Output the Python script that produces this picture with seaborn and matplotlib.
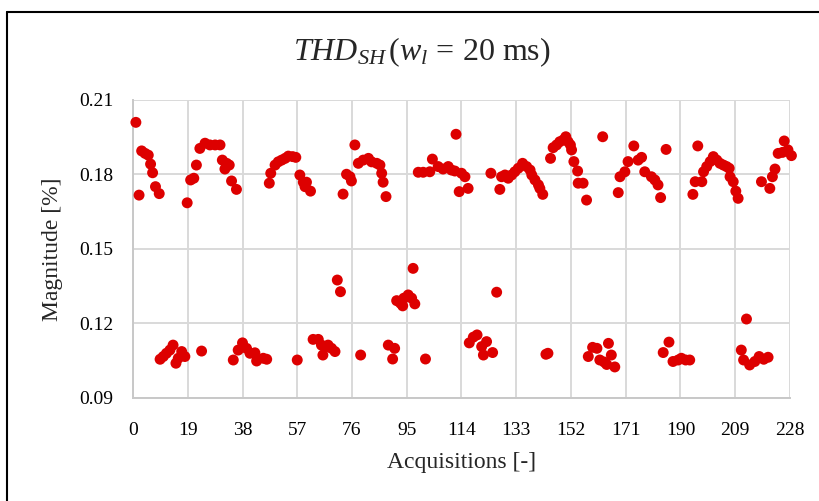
import matplotlib
matplotlib.use("Agg")
import matplotlib.pyplot as plt
import seaborn as sns
import pandas as pd
from matplotlib.lines import Line2D

# Acquisition index and measured THD magnitude [%]
acquisition = [
    1.0, 2.1, 3.0, 4.2, 5.3, 6.1, 6.8, 7.8, 9.1,
    9.4, 10.5, 11.6, 12.8, 13.9, 14.9, 15.7, 16.9, 18.0,
    18.8, 20.0, 21.1, 22.0, 23.2, 23.8, 25.0, 26.7, 28.5, 30.2, 31.0, 31.9, 32.5, 33.4, 34.2, 34.8, 35.9,
    36.5, 38.0, 39.4, 40.6, 42.3, 42.9, 45.2, 46.4,
    47.3, 47.8, 49.3, 50.4, 51.6, 52.8, 53.9, 55.4, 56.5, 57.0,
    57.9, 59.1, 59.7, 60.2, 61.6,
    62.5, 64.3, 65.4, 65.9, 66.6, 67.7, 68.9, 70.1, 70.9, 72.0,
    72.9, 74.1, 75.3, 75.8, 77.0, 78.2, 79.0, 79.9, 81.7, 82.8, 84.6, 85.7, 86.3, 86.8, 87.8,
    88.6, 90.1, 90.8, 91.5, 92.8, 93.6, 94.0, 95.5, 96.7, 97.2, 97.8,
    99.0, 100.7, 101.5, 103.0, 103.9, 105.9, 107.6, 109.4, 110.5, 111.7, 112.1, 113.2, 114.0, 115.2, 116.3,
    116.7, 118.1, 119.4, 121.0, 121.6, 122.7, 124.2, 124.8, 126.2,
    127.3, 127.9, 129.1, 130.2, 131.4, 132.5, 133.7, 135.2, 136.6, 137.8, 138.4, 139.5, 140.7, 141.2, 142.2,
    143.3, 144.0,
    144.9, 145.8, 147.0, 148.1, 149.3, 150.2, 151.0, 151.8, 152.2, 153.0, 154.3, 154.5, 156.2, 157.4,
    158.0, 159.5, 161.0, 162.0, 163.0, 163.5, 164.4, 165.0, 166.0, 167.2,
    168.4, 169.0, 170.7, 171.8, 173.8, 175.3, 176.5, 177.6, 179.9, 181.1, 182.2, 183.1,
    184.0, 185.0, 186.0, 187.4, 189.2, 190.3, 191.8, 193.2,
    194.3, 195.1, 196.0, 197.4, 198.0, 199.1, 200.3, 201.4, 202.6, 203.7, 204.9, 206.0, 206.9,
    207.2, 208.3, 209.2, 210.0,
    211.1, 211.9, 212.9, 214.0, 215.8, 217.3, 218.1, 218.9, 220.4,
    221.0, 221.9, 222.8, 223.9, 225.4, 226.0, 227.3, 228.5,
]
magnitude = [
    0.2010, 0.1717, 0.1895, 0.1885, 0.1878, 0.1842, 0.1807, 0.1751, 0.1723,
    0.1056, 0.1067, 0.1080, 0.1093, 0.1113, 0.1040, 0.1060, 0.1087, 0.1067,
    0.1686, 0.1778, 0.1785, 0.1838, 0.1905, 0.1089, 0.1926, 0.1919, 0.1919, 0.1919, 0.1858, 0.1822, 0.1845, 0.1838, 0.1774, 0.1053, 0.1740,
    0.1093, 0.1122, 0.1100, 0.1080, 0.1082, 0.1049, 0.1060, 0.1056,
    0.1765, 0.1805, 0.1838, 0.1851, 0.1858, 0.1865, 0.1874, 0.1872, 0.1869, 0.1053,
    0.1798, 0.1769, 0.1751, 0.1769, 0.1733,
    0.1136, 0.1136, 0.1113, 0.1073, 0.1104, 0.1113, 0.1100, 0.1087, 0.1375, 0.1328,
    0.1721, 0.1801, 0.1791, 0.1774, 0.1919, 0.1845, 0.1073, 0.1858, 0.1865, 0.1851, 0.1845, 0.1838, 0.1805, 0.1769, 0.1711,
    0.1113, 0.1057, 0.1100, 0.1292, 0.1282, 0.1271, 0.1302, 0.1315, 0.1302, 0.1422, 0.1279,
    0.1809, 0.1809, 0.1057, 0.1811, 0.1862, 0.1832, 0.1822, 0.1832, 0.1818, 0.1814, 0.1962, 0.1731, 0.1805, 0.1791, 0.1744,
    0.1122, 0.1145, 0.1154, 0.1107, 0.1073, 0.1127, 0.1805, 0.1083, 0.1326,
    0.1740, 0.1791, 0.1798, 0.1785, 0.1798, 0.1811, 0.1825, 0.1845, 0.1832, 0.1818, 0.1798, 0.1778, 0.1758, 0.1744, 0.1720,
    0.1076, 0.1080,
    0.1865, 0.1908, 0.1919, 0.1932, 0.1939, 0.1952, 0.1932, 0.1919, 0.1899, 0.1852, 0.1814, 0.1765, 0.1765, 0.1697,
    0.1067, 0.1104, 0.1100, 0.1053, 0.1952, 0.1045, 0.1035, 0.1120, 0.1073, 0.1025,
    0.1727, 0.1791, 0.1811, 0.1852, 0.1915, 0.1858, 0.1869, 0.1811, 0.1791, 0.1778, 0.1758, 0.1707,
    0.1083, 0.1901, 0.1125, 0.1047, 0.1053, 0.1060, 0.1053, 0.1053,
    0.1720, 0.1771, 0.1915, 0.1771, 0.1811, 0.1832, 0.1852, 0.1872, 0.1858, 0.1845, 0.1838, 0.1832, 0.1825,
    0.1791, 0.1771, 0.1733, 0.1704,
    0.1093, 0.1053, 0.1218, 0.1033, 0.1047, 0.1067, 0.1771, 0.1056, 0.1064,
    0.1744, 0.1791, 0.1822, 0.1885, 0.1889, 0.1935, 0.1899, 0.1876,
]
x_ticks = [0, 19, 38, 57, 76, 95, 114, 133, 152, 171, 190, 209, 228]
y_ticks = [0.09, 0.12, 0.15, 0.18, 0.21]

df = pd.DataFrame({"Acquisitions": acquisition, "Magnitude": magnitude})

sns.set_theme(style="white")
plt.rcParams["font.family"] = ["Liberation Serif", "DejaVu Serif"]
plt.rcParams["mathtext.fontset"] = "custom"
plt.rcParams["mathtext.rm"] = "Liberation Serif"
plt.rcParams["mathtext.it"] = "Liberation Serif:italic"

fig = plt.figure(figsize=(8.2, 5.01), dpi=100)
ax = fig.add_axes([0.1622, 0.2056, 0.8012, 0.5948])

sns.scatterplot(data=df, x="Acquisitions", y="Magnitude", ax=ax,
                color="#DD0000", s=62, edgecolor="none", zorder=3, clip_on=False)

ax.set_xlim(0, 228)
ax.set_ylim(0.09, 0.21)
ax.set_xticks(x_ticks)
ax.set_xticklabels([str(t) for t in x_ticks])
ax.set_yticks(y_ticks)
ax.set_yticklabels([f"{t:.2f}" for t in y_ticks])
ax.grid(True, color="#D9D9D9", linewidth=1.4, zorder=0)
ax.set_axisbelow(True)
for side in ["top", "right"]:
    ax.spines[side].set_visible(False)
for side in ["left", "bottom"]:
    ax.spines[side].set_color("#C8C8C8")
    ax.spines[side].set_linewidth(1.4)
ax.tick_params(axis="both", length=0, labelsize=14, colors="#000000")
ax.tick_params(axis="x", pad=17)
ax.tick_params(axis="y", pad=14)

ax.set_xlabel("Acquisitions [-]", fontsize=17, labelpad=10)
ax.set_ylabel("Magnitude [%]", fontsize=17, labelpad=12)

fig.text(0.515, 0.895, r"$\mathit{THD}_{\mathit{SH}}\,(\mathit{w}_{\mathit{l}}$ = 20 ms)",
         ha="center", va="center", fontsize=23)

# outer chart frame (left and top edges)
fig.add_artist(Line2D([7.5 / 820, 7.5 / 820], [0, 1 - 12 / 501], transform=fig.transFigure,
                      color="black", linewidth=1.5))
fig.add_artist(Line2D([7.5 / 820, 1], [1 - 12 / 501, 1 - 12 / 501], transform=fig.transFigure,
                      color="black", linewidth=1.5))

fig.savefig("out.png", dpi=100)
